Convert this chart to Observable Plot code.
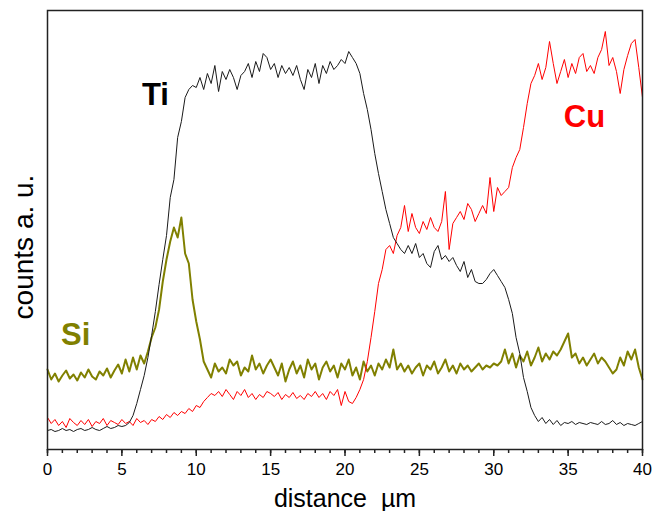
<!DOCTYPE html>
<html>
<head>
<meta charset="utf-8">
<script src="https://cdn.jsdelivr.net/npm/d3@7"></script>
<script src="https://cdn.jsdelivr.net/npm/@observablehq/plot@0.6"></script>
<style>
  html, body { margin: 0; padding: 0; background: #fff; }
  #chart svg { display: block; }
</style>
</head>
<body>
<div id="chart"></div>
<script>
// distance (µm), sampled every 0.25 µm from 0 to 40
const distance = d3.range(0, 161).map(i => i * 0.25);

// Ti counts (a.u.)
const ti = [
  19,20,18,19,21,19,20,18,20,21,19,20,22,20,19,21,23,21,22,24,23,
  24,27,34,46,60,74,92,114,138,165,190,214,252,270,312,328,352,360,364,
  362,372,360,376,366,384,358,378,370,380,372,360,374,378,386,372,388,378,396,392,
  380,386,372,384,376,382,374,384,370,360,380,372,386,366,384,376,388,380,384,390,
  386,398,392,386,376,356,340,320,296,276,258,240,226,212,206,200,196,204,196,206,
  192,196,186,182,198,204,190,194,188,192,184,178,188,172,180,168,166,166,170,176,
  180,174,168,162,150,136,112,96,72,58,42,34,28,32,26,30,25,29,24,27,
  26,28,25,27,26,25,27,26,25,28,25,26,29,25,27,24,26,25,24,26,28
];

// Cu counts (a.u.)
const cu = [
  32,26,30,24,28,22,31,27,24,29,25,30,23,28,26,31,24,29,27,25,30,26,28,24,31,27,29,25,30,
  28,33,30,35,32,37,34,38,36,41,38,44,42,48,52,56,54,58,53,60,55,50,58,54,60,52,56,50,55,52,58,
  56,53,57,50,55,52,57,51,54,50,56,53,58,52,56,50,58,54,60,44,
  58,48,46,52,60,70,88,112,138,166,180,200,204,196,214,222,244,218,236,222,
  216,228,220,232,222,218,228,258,200,226,232,238,230,246,240,228,236,244,236,272,
  238,262,254,258,262,282,292,300,322,346,366,374,386,370,382,408,386,366,378,390,
  372,386,376,392,396,378,384,376,392,400,418,384,392,378,356,380,394,406,410,382,352
];

// Si counts (a.u.)
const si = [
  80,70,76,68,74,79,71,75,69,77,72,80,73,70,78,74,81,72,79,85,76,
  90,78,92,80,94,86,98,112,122,140,168,190,208,222,212,232,196,186,150,
  128,110,88,80,72,86,78,82,76,90,84,88,74,82,78,94,80,86,76,84,
  90,82,74,86,68,80,88,76,84,72,90,80,86,70,82,88,78,84,72,86,
  80,90,74,82,70,88,78,84,74,86,80,90,82,100,80,86,78,84,76,82,
  86,74,84,80,88,76,82,90,78,84,76,86,80,84,78,82,86,80,84,82,
  86,84,88,100,86,96,82,94,88,98,84,92,102,88,96,90,98,94,100,108,
  116,92,96,86,92,84,90,96,86,92,88,82,76,80,92,84,98,90,100,82,70
];

const xTicks = [0, 5, 10, 15, 20, 25, 30, 35, 40];
const xMinor = d3.range(0, 41, 1);

const labels = [
  {name: "Ti", x: 7.26, y: 354, color: "#000000"},
  {name: "Cu", x: 36.1, y: 332, color: "#ff0000"},
  {name: "Si", x: 1.9, y: 114, color: "#808000"}
];

const toRows = arr => arr.map((v, i) => ({x: distance[i], y: v}));
const tiRows = toRows(ti), cuRows = toRows(cu), siRows = toRows(si);

const font = "'Liberation Sans', Arial, Helvetica, sans-serif";

const chart = Plot.plot({
  width: 653,
  height: 511,
  marginLeft: 47,
  marginRight: 11,
  marginTop: 10,
  marginBottom: 62,
  style: {fontFamily: font, fontSize: "18px", color: "#000", background: "#fff"},
  x: {domain: [0, 40]},
  y: {domain: [0, 439], axis: null},
  marks: [
    Plot.line(siRows, {x: "x", y: "y", stroke: "#808000", strokeWidth: 2}),
    Plot.line(cuRows, {x: "x", y: "y", stroke: "#ff0000", strokeWidth: 1}),
    Plot.line(tiRows, {x: "x", y: "y", stroke: "#1a1a1a", strokeWidth: 1}),
    Plot.axisX({ticks: xMinor, tickSize: 4, strokeWidth: 1.5, stroke: "#222", text: null, label: null}),
    Plot.axisX({ticks: xTicks, tickSize: 7, strokeWidth: 1.5, stroke: "#222", text: null, label: null}),
    Plot.text(xTicks, {x: d => d, frameAnchor: "bottom", dy: 13, lineAnchor: "top", fontSize: 17, fill: "#000", text: d => String(d)}),
    Plot.frame({stroke: "#222", strokeWidth: 1.5}),
    Plot.text(labels, {x: "x", y: "y", text: "name", fill: "color", fontSize: 31, fontWeight: "bold"}),
    Plot.text(["distance  µm"], {frameAnchor: "bottom", dy: 57, lineAnchor: "bottom", fontSize: 25, textAnchor: "middle", text: d => d}),
    Plot.text(["counts a. u."], {frameAnchor: "left", textAnchor: "middle", dx: -23, dy: 17, rotate: -90, fontSize: 28, text: d => d})
  ]
});

document.getElementById("chart").append(chart);
</script>
</body>
</html>
